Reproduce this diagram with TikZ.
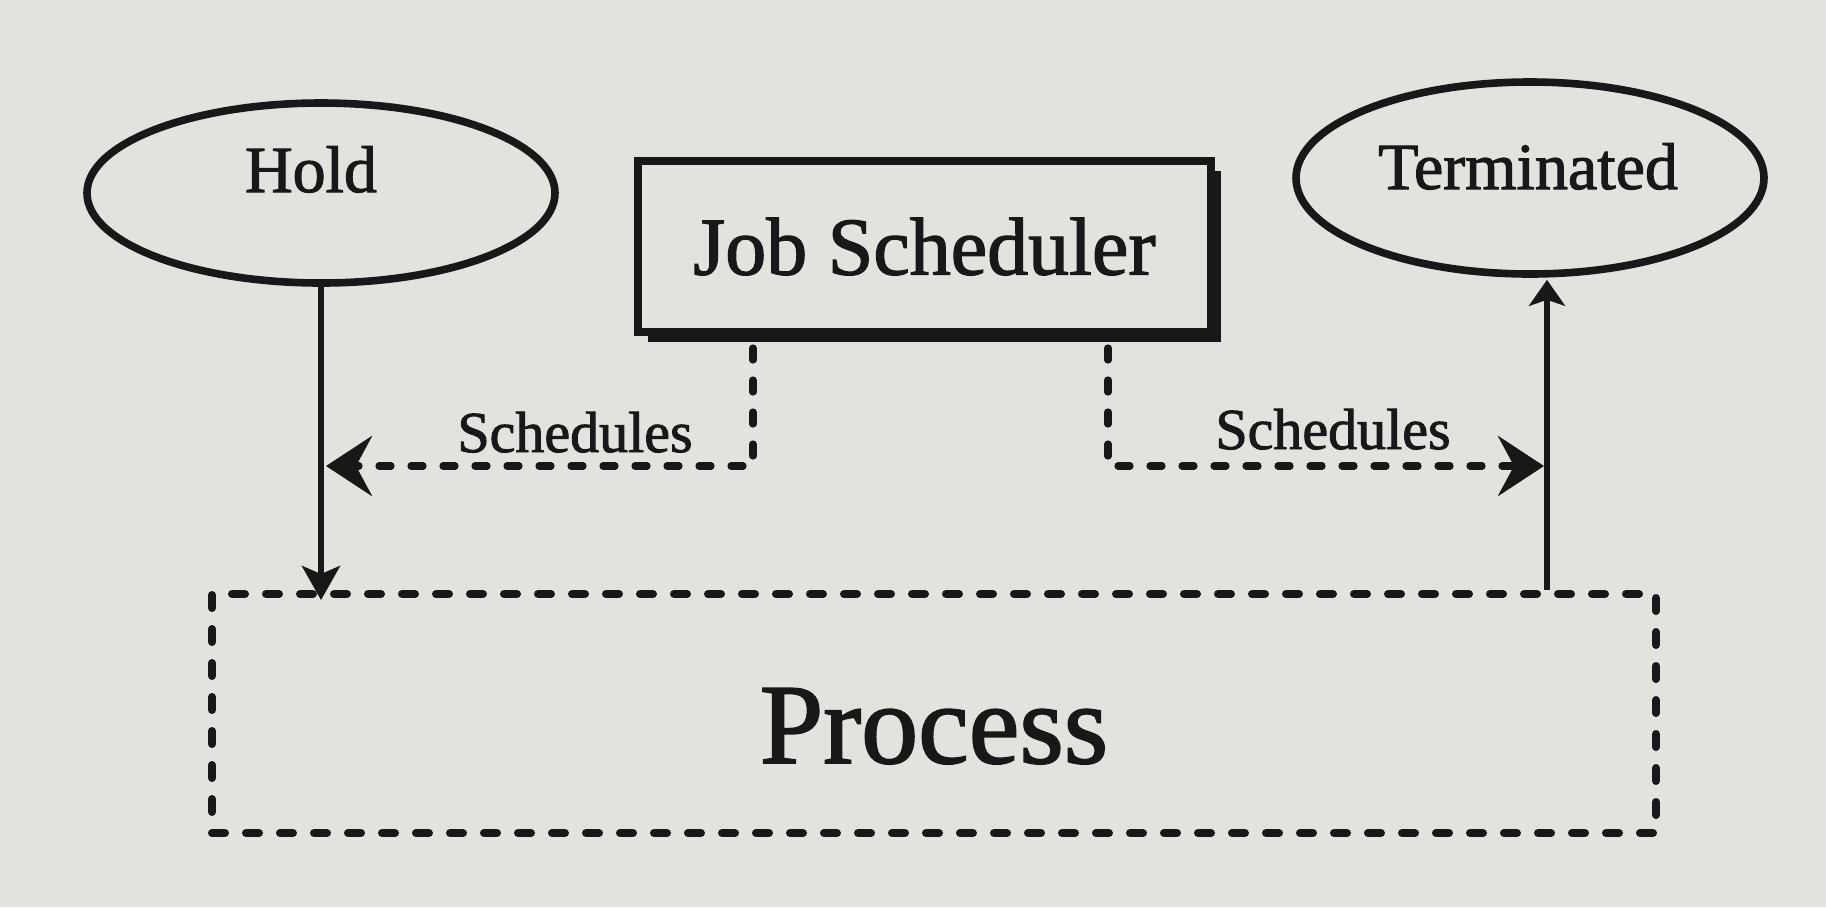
\documentclass[tikz,border=0pt]{standalone}
\usepackage{fontspec}
\setmainfont{Liberation Serif}[FakeBold=1.6]
\usetikzlibrary{shapes.geometric,arrows.meta,shadows,calc}
\definecolor{paper}{RGB}{228,226,222}
\definecolor{ink}{RGB}{24,24,24}
\begin{document}
\begin{tikzpicture}[x=0.5pt,y=-0.5pt,
  stateell/.style={ellipse, draw=ink, line width=3.8pt, inner sep=0pt},
  jobbox/.style={rectangle, draw=ink, line width=4pt, fill=paper, minimum width=286.5pt, minimum height=85.5pt, inner sep=0pt, text=ink, font=\fontsize{41}{48}\selectfont,
    drop shadow={shadow xshift=5pt, shadow yshift=-5pt, fill=ink, opacity=1}},
  procbox/.style={rectangle, draw=ink, line width=4pt, line cap=round, dash pattern=on 6.5pt off 10.5pt, minimum width=722pt, minimum height=119.5pt},
  lbl/.style={text=ink, inner sep=0pt, anchor=base},
  statefont/.style={font=\fontsize{33}{40}\selectfont},
  schedfont/.style={font=\fontsize{29}{35}\selectfont},
  flowdown/.style={draw=ink, line width=3pt, -{Stealth[length=17pt,width=19pt,inset=4pt]}},
  flowup/.style={draw=ink, line width=3pt, -{Stealth[length=13pt,width=18pt,inset=3pt]}},
  schedarr/.style={draw=ink, line width=3.6pt, line cap=round, dash pattern=on 6pt off 10pt, -{Stealth[length=23pt,width=30pt,inset=8pt]}}
]
\fill[paper] (0,0) rectangle (1826,907);
\useasboundingbox (0,0) rectangle (1826,907);

\node[stateell, minimum width=234pt, minimum height=90pt] (hold) at (321,193) {};
\node[lbl, statefont] (holdtxt) at (311,192) {Hold};

\node[stateell, minimum width=234pt, minimum height=96pt] (term) at (1530,178) {};
\node[lbl, statefont] (termtxt) at (1528,189) {Terminated};

\node[jobbox] (job) at (924.5,246.5) {Job Scheduler};

\node[procbox] (proc) at (934,713.5) {};
\node[lbl, font=\fontsize{57}{66}\selectfont] (proctxt) at (934,763) {Process};

% Hold -> Process
\coordinate (holdin) at ($(hold.south |- proc.north)+(0,10)$);
\draw[flowdown] (hold.south) -- (holdin);

% Process -> Terminated
\coordinate (termin) at ($(term.south)+(17,2)$);
\coordinate (termfoot) at (proc.north -| termin);
\draw[flowup] (termfoot) -- (termin);

% Schedules (left)
\coordinate (jl) at ($(job.south west)+(119,12)$);
\coordinate (hl) at (326,466);
\draw[schedarr] (jl) |- (hl);
\node[lbl, schedfont] (schedl) at (575,452) {Schedules};

% Schedules (right)
\coordinate (jr) at ($(job.south west)+(474,12)$);
\coordinate (tl) at (1544,466);
\draw[schedarr] (jr) |- (tl);
\node[lbl, schedfont] (schedr) at (1333,449) {Schedules};
\end{tikzpicture}
\end{document}
